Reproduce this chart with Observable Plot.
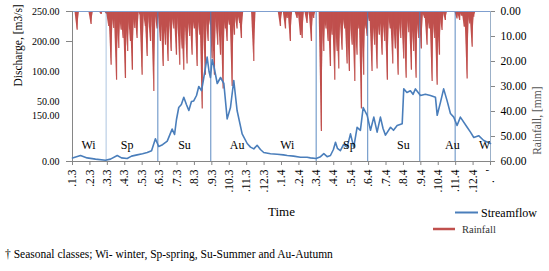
<!DOCTYPE html>
<html>
<head>
<meta charset="utf-8">
<script src="https://cdn.jsdelivr.net/npm/d3@7"></script>
<script src="https://cdn.jsdelivr.net/npm/@observablehq/plot@0.6"></script>
<style>
  html, body { margin: 0; padding: 0; background: #fff; overflow: hidden; }
  #chart { width: 549px; height: 271px; }
</style>
</head>
<body>
<div id="chart"></div>
<script>
// ---- data (time in months since Jan 2003) ----
const monthTickLabels = [".1.3",".2.3",".3.3",".4.3",".5.3",".6.3",".7.3",".8.3",".9.3",".10.3",".11.3",".12.3",
  ".1.4",".2.4",".3.4",".4.4",".5.4",".6.4",".7.4",".8.4",".9.4",".10.4",".11.4",".12.4",".   '"];

const flowT = [0.00,0.46,0.84,1.32,1.89,2.18,2.57,2.81,3.14,3.39,3.71,4.02,4.29,4.54,4.76,4.95,5.17,5.44,5.72,5.86,
  5.97,6.10,6.25,6.39,6.54,6.68,6.83,6.96,7.12,7.25,7.41,7.54,7.73,7.84,7.92,8.02,8.11,8.31,8.50,8.69,
  8.88,9.07,9.26,9.45,9.74,10.03,10.22,10.41,10.60,10.79,10.98,11.37,11.75,12.11,12.33,12.69,13.09,13.47,13.66,13.99,
  14.24,14.43,14.62,14.81,14.98,15.10,15.21,15.38,15.56,15.77,15.96,16.15,16.34,16.53,16.69,16.92,17.11,17.30,17.49,17.68,
  17.83,17.97,18.26,18.43,18.64,18.93,19.02,19.20,19.40,19.55,19.69,19.98,20.26,20.55,20.84,20.94,21.13,21.31,21.51,21.70,
  21.89,22.08,22.27,22.66,22.85,23.04,23.32,23.61,24.00];
const flowQ = [6,10,6,4,2,4,10,6,5,9,11,13,15,18,38,25,28,34,54,45,
  70,90,95,107,95,85,100,101,110,125,118,140,174,150,140,170,160,130,140,130,
  71,90,135,85,46,30,24,21,27,20,15,13,12,11,10,9,7,7,6,5,
  8,13,8,10,20,32,22,18,28,24,46,24,57,52,90,77,52,74,49,74,
  55,44,57,52,60,63,121,115,118,112,121,110,112,110,107,77,99,121,101,80,
  74,60,74,57,49,40,43,35,30];

const rainT = [0.27,1.07,1.65,1.95,2.08,2.22,2.37,2.53,2.66,2.80,2.91,3.04,3.17,3.33,3.44,3.58,3.71,3.90,4.00,4.19,
  4.29,4.48,4.67,4.86,5.05,5.21,5.34,5.49,5.67,5.82,5.97,6.16,6.30,6.39,6.58,6.73,6.87,7.00,7.16,7.31,
  7.45,7.63,7.79,7.92,8.02,8.11,8.15,8.34,8.50,8.65,8.78,8.88,9.01,9.17,9.30,9.45,9.60,9.70,10.41,11.94,
  12.23,12.33,12.51,12.90,13.09,13.19,13.47,13.72,13.85,14.29,14.43,14.56,14.68,14.81,14.91,15.06,15.20,15.29,15.48,15.63,
  15.77,15.90,16.06,16.21,16.34,16.44,16.59,16.72,16.86,16.92,17.05,17.20,17.35,17.49,17.62,17.78,17.93,18.08,18.25,18.39,
  18.54,18.70,18.85,19.02,19.16,19.31,19.46,19.59,19.73,19.88,20.03,20.22,20.36,20.49,20.65,20.80,20.94,21.07,21.22,21.41,
  22.08,22.23,22.37,22.50,22.66,22.81,22.95,23.04];
const rainMM = [7.5,5.2,1.2,1,6,21.5,6.8,27.5,14.8,7.5,10.8,26.8,16,12,23.5,6.8,10.8,1.5,25.5,6,
  18,12,32,7,12,22,13.5,20,16,7,17.5,21.5,15,23.5,21,10,17.5,7,22,9.5,
  39,25.5,12,5.5,19,16,25.5,13.5,17.5,31,7,12,5.5,30,9.5,7,4.8,10.8,20,6,
  7,2.8,12,2.8,9.6,10.8,4.8,12,2.8,48,16,7,12,22,9.5,27.5,16,23,15.5,7,
  21,24,13.5,28,17.5,7,39,25.5,7,10,4,24,13.5,23,9.5,17.5,12,27.5,7,21,
  15,25.5,10.8,19,26.7,8.5,23.5,16,26.7,10.8,15,2.8,13.5,7,28,10.8,29.5,17.5,7.6,3.6,
  3,3.6,2,6.3,27,5,14.3,2.3];

const seasonBoundaries = [1.93, 4.90, 7.94, 13.99, 16.95, 19.94, 21.97];
const seasonNames = ["Wi","Sp","Su","Au","Wi","Sp","Su","Au","Wi"];
const seasonPos   = [0.92, 3.14, 6.43, 9.45, 12.33, 15.90, 19.00, 21.81, 23.75];

const leftTickValues = [0, 77, 100, 150, 200, 250];
const leftTickLabels = ["0.00", "150.00", "50.00", "100.00", "200.00", "250.00"];
const rainTicks = [0, 10, 20, 30, 40, 50, 60];

// ---- derived tables ----
const QMAX = 250, RMAX = 60;
const rainToY = r => QMAX - r * QMAX / RMAX;
const flow = flowT.map((t, i) => ({t, q: flowQ[i]}));
const rain = rainT.map((t, i) => ({t, r: rainMM[i], id: i}));
const rainTri = rain.flatMap(d => [
  {t: d.t - 0.13, r: 0, id: d.id},
  {t: d.t, r: d.r, id: d.id},
  {t: d.t + 0.13, r: 0, id: d.id}
]);
const seasons = seasonNames.map((n, i) => ({name: n, t: seasonPos[i]}));
const leftLabel = new Map(leftTickValues.map((v, i) => [v, leftTickLabels[i]]));

const BLUE = "#4a7ebb", RED = "#c0504d", AXIS = "#868686";
const SERIF = "'Liberation Serif', 'Times New Roman', serif";

const svg = Plot.plot({
  width: 549, height: 271,
  marginLeft: 72, marginRight: 59, marginTop: 11, marginBottom: 110,
  style: {fontFamily: SERIF, color: "#000", background: "#fff"},
  x: {domain: [0, 24], axis: null},
  y: {domain: [0, QMAX], axis: null},
  marks: [
    // rainfall (hanging from top, reversed right axis)
    Plot.areaY(rainTri, {x: "t", y1: () => QMAX, y2: d => rainToY(d.r), z: "id", fill: RED, curve: "linear"}),
    Plot.ruleX(rain, {x: "t", y1: () => QMAX, y2: d => rainToY(d.r), stroke: RED, strokeWidth: 1.2}),
    // season boundaries
    Plot.ruleX(seasonBoundaries, {stroke: BLUE, strokeWidth: 1, strokeOpacity: (d, i) => i === 0 ? 0.45 : 0.9}),
    // frame lines
    Plot.ruleY([0], {stroke: AXIS}),
    Plot.ruleY([QMAX], {stroke: "#7f9fcf"}),
    Plot.ruleX([0], {stroke: AXIS}),
    Plot.ruleX([24], {stroke: "#9bb0c8"}),
    // streamflow
    Plot.line(flow, {x: "t", y: "q", stroke: BLUE, strokeWidth: 1.6}),
    // season labels
    Plot.text(seasons, {x: "t", y: () => 27, text: "name", fontSize: 12, clip: true, fill: "#000"}),
    // axes
    Plot.axisX(d3.range(0, 25), {
      tickFormat: i => monthTickLabels[i], tickRotate: -90, tickSize: 4, tickPadding: 4,
      fontSize: 11.5, stroke: AXIS, label: null
    }),
    Plot.axisY(leftTickValues, {anchor: "left", tickSize: 0, tickPadding: 13, fontSize: 10,
      tickFormat: d => leftLabel.get(d), label: null}),
    Plot.axisY([0, 200, 250], {anchor: "left", tickSize: 6, tickFormat: () => "", stroke: AXIS, label: null}),
    Plot.axisY(rainTicks.map(rainToY), {anchor: "right", tickSize: 4, tickPadding: 6, fontSize: 11.5,
      stroke: AXIS, tickFormat: y => ((QMAX - y) * RMAX / QMAX).toFixed(2), label: null}),
    // axis titles
    Plot.text(["Discharge, [m3/s]"], {frameAnchor: "left", dx: -54, rotate: -90, fontSize: 11.5, fill: "#000"}),
    Plot.text(["Rainfall, [mm]"], {frameAnchor: "right", dx: 47, rotate: -90, fontSize: 11.5, fill: "#555"}),
    Plot.text(["Time"], {frameAnchor: "bottom", dy: 54, fontSize: 13, fill: "#000"})
  ]
});

// legend and footnote (layout only)
const s = d3.select(svg);
s.append("line").attr("x1", 455).attr("x2", 478).attr("y1", 212.5).attr("y2", 212.5)
  .attr("stroke", BLUE).attr("stroke-width", 2);
s.append("text").attr("x", 481).attr("y", 216.5).attr("font-size", 12).attr("fill", "#000")
  .attr("font-family", SERIF).attr("text-anchor", "start").text("Streamflow");
s.append("line").attr("x1", 433).attr("x2", 455).attr("y1", 229).attr("y2", 229)
  .attr("stroke", RED).attr("stroke-width", 2.5);
s.append("text").attr("x", 462).attr("y", 232.5).attr("font-size", 10.5).attr("fill", "#333")
  .attr("font-family", SERIF).attr("text-anchor", "start").text("Rainfall");
s.append("text").attr("x", 5).attr("y", 258).attr("font-size", 11.5).attr("fill", "#000")
  .attr("font-family", SERIF).attr("text-anchor", "start")
  .text("† Seasonal classes; Wi- winter, Sp-spring, Su-Summer and Au-Autumn");

document.getElementById("chart").append(svg);
</script>
</body>
</html>
